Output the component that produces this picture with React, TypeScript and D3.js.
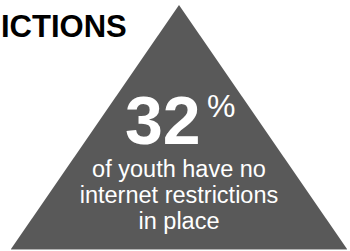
import React from 'react';
import * as d3 from 'd3';

// heading is cropped on the left in the reference; only this part is visible
const heading = ['ICTIONS'];
const percentValue = [32];
const percentSuffix = ['%'];
const captionLines = ['of youth have no', 'internet restrictions', 'in place'];
// triangle outline in unit coords: [-1..1] across, [0..1] up
const triangle: [number, number][] = [[-1, 0], [0, 1], [1, 0]];

const W = 350;
const H = 251;

const App: React.FC = () => {
  const x = d3.scaleLinear().domain([-1, 1]).range([11, 347]);
  const y = d3.scaleLinear().domain([0, 1]).range([249, 5]);

  const line = d3
    .line<[number, number]>()
    .x((d) => x(d[0]))
    .y((d) => y(d[1]))
    .curve(d3.curveLinearClosed);

  const cx = x(0);
  const font = '"Liberation Sans", Arial, Helvetica, sans-serif';

  return (
    <svg
      width={W}
      height={H}
      style={{ position: 'absolute', left: 0, top: 0, overflow: 'hidden' }}
    >
      <rect width={W} height={H} fill="#ffffff" />
      <text
        x={1}
        y={37}
        fontFamily={font}
        fontWeight="bold"
        fontSize={31}
        fill="#000"
      >
        {heading[0]}
      </text>
      <path d={line(triangle) || ''} fill="#595959" />
      <line x1={x(-1)} x2={x(1)} y1={249.5} y2={249.5} stroke="#b3b3b3" strokeWidth={1} />
      <text x={125} y={144} fontFamily={font} fontWeight="bold" fontSize={68} fill="#fff">
        {percentValue[0]}
      </text>
      <text x={207} y={117} fontFamily={font} fontSize={32} fill="#fff">
        {percentSuffix[0]}
      </text>
      {captionLines.map((t, i) => (
        <text
          key={t}
          x={cx}
          y={177 + i * 26}
          textAnchor="middle"
          fontFamily={font}
          fontSize={23.5}
          fill="#fff"
        >
          {t}
        </text>
      ))}
    </svg>
  );
};

export default App;
